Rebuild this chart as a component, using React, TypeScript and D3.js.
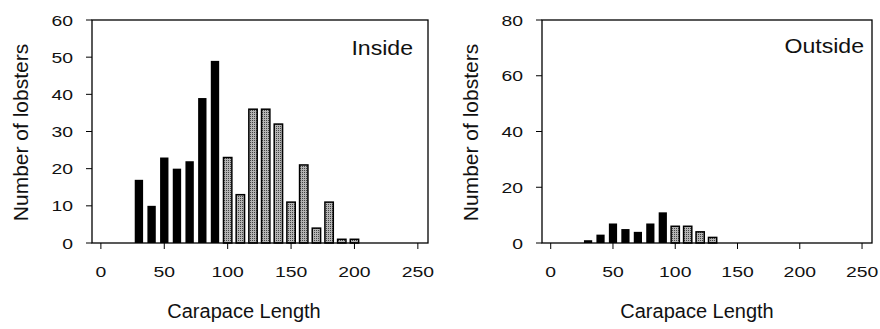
import * as d3 from 'd3';
import React from 'react';

// carapace length bins (mm)
const bins = [30, 40, 50, 60, 70, 80, 90, 100, 110, 120, 130, 140, 150, 160, 170, 180, 190, 200];
const insideCounts = [17, 10, 23, 20, 22, 39, 49, 23, 13, 36, 36, 32, 11, 21, 4, 11, 1, 1];
const outsideCounts = [1, 3, 7, 5, 4, 7, 11, 6, 6, 4, 2, 0, 0, 0, 0, 0, 0, 0];
// bins below this are drawn solid black, the rest grey
const legalSize = 100;

const xTicks = [0, 50, 100, 150, 200, 250];
const insideYTicks = [0, 10, 20, 30, 40, 50, 60];
const outsideYTicks = [0, 20, 40, 60, 80];

const font = 'Arial, "Liberation Sans", sans-serif';

// the scanned figure is a bit wider than tall, so stretch the text sideways
function Label({ x, y, anchor, size, sx = 1, children }: any) {
  return (
    <text
      transform={`translate(${x},${y}) scale(${sx},1)`}
      textAnchor={anchor}
      fontSize={size}
      fontFamily={font}
      fill="#111"
    >
      {children}
    </text>
  );
}

type PanelProps = {
  left: number;
  right: number;
  counts: number[];
  yTicks: number[];
  title: string;
  titleX: number;
  titleY: number;
  xTitleX: number;
};

function Panel({ left, right, counts, yTicks, title, titleX, titleY, xTitleX }: PanelProps) {
  const top = 20;
  const bottom = 243;
  const x = d3.scaleLinear().domain([-7, 258]).range([left, right]);
  const y = d3.scaleLinear().domain([0, yTicks[yTicks.length - 1]]).range([bottom, top]);
  const bw = x(6.6) - x(0);

  return (
    <g>
      {bins.map((b, i) =>
        counts[i] > 0 ? (
          <rect
            key={b}
            x={x(b) - bw / 2}
            y={y(counts[i])}
            width={bw}
            height={bottom - y(counts[i])}
            fill={b < legalSize ? '#000' : 'url(#stipple)'}
            stroke="#000"
            strokeWidth={b < legalSize ? 0 : 1.5}
          />
        ) : null
      )}
      <rect x={left} y={top} width={right - left} height={bottom - top} fill="none" stroke="#000" strokeWidth={1.3} />
      {yTicks.map((t) => (
        <g key={t}>
          <line x1={left - 6} x2={left} y1={y(t)} y2={y(t)} stroke="#000" />
          <Label x={left - 19} y={y(t) + 5.5} anchor="end" size={15.5} sx={1.25}>
            {t}
          </Label>
        </g>
      ))}
      {xTicks.map((t) => (
        <g key={t}>
          <line x1={x(t)} x2={x(t)} y1={bottom} y2={bottom + 6} stroke="#000" />
          <Label x={x(t)} y={277} anchor="middle" size={15.5} sx={1.25}>
            {t}
          </Label>
        </g>
      ))}
      <Label x={xTitleX} y={318} anchor="middle" size={20} sx={1}>
        Carapace Length
      </Label>
      <text
        transform={`translate(${left - 64},${(top + bottom) / 2 + 1}) rotate(-90)`}
        textAnchor="middle"
        fontSize={21}
        fontFamily={font}
        fill="#111"
      >
        Number of lobsters
      </text>
      <Label x={titleX} y={titleY} anchor="end" size={21} sx={1.1}>
        {title}
      </Label>
    </g>
  );
}

export default function App() {
  return (
    <svg width={880} height={329} style={{ position: 'absolute', left: 0, top: 0 }}>
      <defs>
        <pattern id="stipple" width="2" height="2" patternUnits="userSpaceOnUse">
          <rect width="2" height="2" fill="#b4b4b4" />
          <rect width="1" height="1" fill="#444" />
        </pattern>
      </defs>
      <rect width={880} height={329} fill="#fff" />
      <Panel left={92} right={428} counts={insideCounts} yTicks={insideYTicks} title="Inside" titleX={413} titleY={55} xTitleX={244} />
      <Panel left={542} right={872} counts={outsideCounts} yTicks={outsideYTicks} title="Outside" titleX={864} titleY={53} xTitleX={697} />
    </svg>
  );
}
